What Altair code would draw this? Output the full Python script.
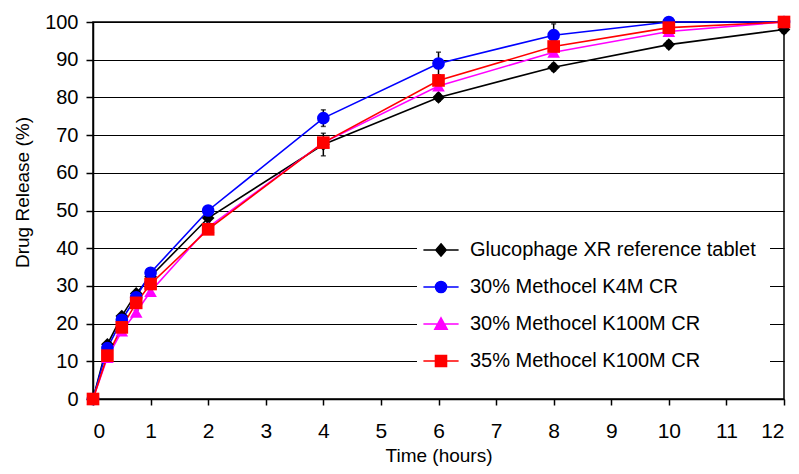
import altair as alt
import pandas as pd

times = [0, 0.25, 0.5, 0.75, 1, 2, 4, 6, 8, 10, 12]
series = ["Glucophage XR reference tablet", "30% Methocel K4M CR",
          "30% Methocel K100M CR", "35% Methocel K100M CR"]
gluco = [0, 14.5, 22, 28, 32.5, 48, 67.5, 80, 88, 94, 98]
k4m = [0, 13.5, 21, 27, 33.5, 50, 74.5, 89, 96.5, 100, 100]
k100_30 = [0, 11, 18, 23, 28.5, 45.5, 68, 83, 92, 97.5, 100]
k100_35 = [0, 11.5, 19, 25.5, 30.5, 45, 68, 84.5, 93.5, 98.5, 100]
gluco_err = [0, 0.5, 0.5, 0.5, 0.5, 1, 3, 1, 1, 1, 1]
k4m_err = [0, 0.5, 0.5, 0.5, 0.5, 0.5, 2.2, 3, 3, 1, 0]
k100_30_err = [0, 0.5, 0.5, 0.5, 0.5, 0.5, 1, 1, 1, 1, 0]
k100_35_err = [0, 0.5, 0.5, 0.5, 0.5, 0.5, 1, 1, 1, 1, 0]

colors = ["#000000", "#0000FF", "#FF00FF", "#FF0000"]
shapes = ["diamond", "circle", "triangle-up", "square"]
legend_shapes = [
    "M-2.7,0H2.7M0,-0.95L0.8,0L0,0.95L-0.8,0Z",
    "M-2.7,0H2.7M0.85,0A0.85,0.85,0,1,1,-0.85,0A0.85,0.85,0,1,1,0.85,0Z",
    "M-2.7,0H2.7M0,-0.95L0.95,0.8L-0.95,0.8Z",
    "M-2.7,0H2.7M-0.85,-0.85H0.85V0.85H-0.85Z",
]

rows = []
for i, (name, vals, errs) in enumerate(zip(series, [gluco, k4m, k100_30, k100_35],
                                           [gluco_err, k4m_err, k100_30_err, k100_35_err])):
    for t, v, e in zip(times, vals, errs):
        rows.append({"t": t, "v": v, "lo": v - e, "hi": v + e, "s": name,
                     "o": i, "shp": shapes[i]})
df = pd.DataFrame(rows)

FONT = "Liberation Sans, Arial"

xscale = alt.Scale(domain=[0, 12], nice=False, zero=False)
yscale = alt.Scale(domain=[0, 100], nice=False)
xaxis = alt.Axis(values=list(range(13)), title="Time (hours)", grid=False, format="d",
                 tickSize=6, labelPadding=15, titlePadding=5, labelFontSize=21)
yaxis = alt.Axis(values=list(range(0, 101, 10)), title="Drug Release (%)", format="d",
                 grid=True, tickSize=7, labelPadding=8, titlePadding=12, titleY=170)
x = alt.X("t:Q", scale=xscale, axis=xaxis)
y = alt.Y("v:Q", scale=yscale, axis=yaxis)
col = alt.Color("s:N", scale=alt.Scale(domain=series, range=colors), legend=None)

base = alt.Chart(df)

errs = base.mark_errorbar(ticks=True, color="black", thickness=1.5).encode(
    x=x, y=alt.Y("lo:Q", scale=yscale, axis=yaxis), y2="hi:Q")

lines = base.mark_line(strokeWidth=1.6).encode(x=x, y=y, color=col, detail="s:N", order="t:Q")

points = base.mark_point(filled=True, opacity=1, size=160).encode(
    x=x, y=y, color=col, shape=alt.Shape("shp:N", scale=None), order="o:Q")

legend = alt.Legend(title=None, orient="none", legendX=324, legendY=204,
                    fillColor="white", padding=14, symbolSize=170, labelOffset=19,
                    labelFontSize=20, labelFont=FONT, labelColor="black", labelLimit=500,
                    rowPadding=17, symbolStrokeWidth=1.5, symbolOpacity=1)
leg = base.mark_point(filled=True, strokeWidth=1.5, opacity=0).encode(
    x=x, y=y,
    fill=alt.Fill("s:N", scale=alt.Scale(domain=series, range=colors), legend=legend),
    stroke=alt.Stroke("s:N", scale=alt.Scale(domain=series, range=colors), legend=legend),
    shape=alt.Shape("s:N", scale=alt.Scale(domain=series, range=legend_shapes), legend=legend),
)

chart = alt.layer(errs, lines, points, leg).resolve_scale(
    fill="independent", stroke="independent", shape="independent"
).properties(
    width=691, height=377,
    autosize=alt.AutoSizeParams(type="none"),
    padding={"left": 85, "top": 14, "right": 7, "bottom": 67},
).configure_view(stroke="black", strokeWidth=1.5).configure_axis(
    domainColor="black", domainWidth=1.5, tickColor="black", tickWidth=1.5,
    gridColor="black", gridWidth=1.2, gridOpacity=1,
    labelFont=FONT, labelFontSize=20, labelColor="black",
    titleFont=FONT, titleFontSize=19, titleColor="black", titleFontWeight="normal",
)

chart.save("out.html", embed_options={"renderer": "svg", "actions": False})
